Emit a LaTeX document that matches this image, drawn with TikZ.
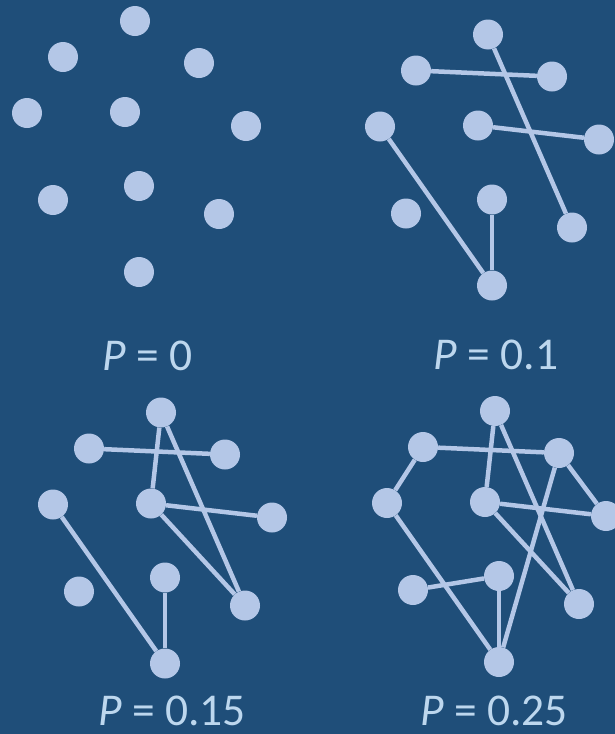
\documentclass[tikz,border=0pt]{standalone}
\usepackage{fontspec}
\setmainfont{Carlito}
\definecolor{bgblue}{HTML}{1F4E79}
\definecolor{dotblue}{HTML}{B4C7E7}
\definecolor{txtblue}{HTML}{BDD7EE}
% the ten vertices, same layout in every panel
\newcommand{\graphnodes}[1]{%
  \foreach \n/\x/\y in {a/135/21, b/63/57, c/199/63, d/27/113, e/125/112,
                        f/246/126, g/53/200, h/139/186, i/219/214, j/139/272}
    \node[dot] (#1\n) at (\x,\y) {};
}

\begin{document}
\begin{tikzpicture}[
    x=1pt, y=-1pt,
    dot/.style  ={circle, fill=dotblue, inner sep=0pt, minimum size=30pt},
    edge/.style ={draw=dotblue, line width=4.5pt},
    lbl/.style  ={text=txtblue, anchor=base, inner sep=0pt, text depth=0pt,
                  font=\fontsize{45.5}{50}\selectfont},
]
\fill[bgblue] (0,0) rectangle (615,734);
\useasboundingbox (0,0) rectangle (615,734);

% P = 0
\graphnodes{p}
\node[lbl] (lab0) at (147.5,370) {\textit{P} = 0};

% P = 0.1
\begin{scope}[shift={(353,13.5)}]
  \graphnodes{q}
\end{scope}
\draw[edge] (qa) -- (qi);
\draw[edge] (qb) -- (qc);
\draw[edge] (qe) -- (qf);
\draw[edge] (qd) -- (qj);
\draw[edge] (qh) -- (qj);
\node[lbl] (lab1) at (496,369) {\textit{P} = 0.1};

% P = 0.15
\begin{scope}[shift={(26,391.5)}]
  \graphnodes{r}
\end{scope}
\draw[edge] (ra) -- (ri);
\draw[edge] (ra) -- (re);
\draw[edge] (rb) -- (rc);
\draw[edge] (re) -- (rf);
\draw[edge] (re) -- (ri);
\draw[edge] (rd) -- (rj);
\draw[edge] (rh) -- (rj);
\node[lbl] (lab2) at (172,725) {\textit{P} = 0.15};

% P = 0.25
\begin{scope}[shift={(360,390)}]
  \graphnodes{s}
\end{scope}
\draw[edge] (sa) -- (si);
\draw[edge] (sa) -- (se);
\draw[edge] (sb) -- (sc);
\draw[edge] (sb) -- (sd);
\draw[edge] (sc) -- (sf);
\draw[edge] (sc) -- (sj);
\draw[edge] (se) -- (sf);
\draw[edge] (se) -- (si);
\draw[edge] (sd) -- (sj);
\draw[edge] (sg) -- (sh);
\draw[edge] (sh) -- (sj);
\node[lbl] (lab3) at (494,725) {\textit{P} = 0.25};
\end{tikzpicture}
\end{document}
